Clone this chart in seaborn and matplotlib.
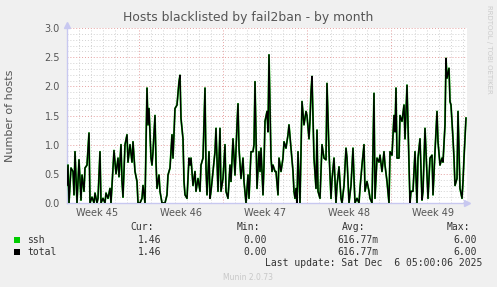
import matplotlib
matplotlib.use("Agg")
import matplotlib.pyplot as plt
from matplotlib.ticker import MultipleLocator, FixedLocator, NullFormatter
import seaborn as sns
import pandas as pd

# ---- data (hours since start of graph, value) ----
hours = [0, 2, 4, 8, 12, 14, 16, 20, 22, 24, 28, 30, 34, 36, 40, 44, 46, 50, 54, 56, 60, 62, 66, 68, 72, 76, 78, 82, 86, 88, 92, 94, 98, 102, 104, 108,
         110, 112, 116, 120, 122, 126, 130, 132, 136, 140, 142, 146, 150, 152, 156, 160, 162, 164, 168, 170, 172, 176, 178, 180, 184, 186, 190, 192, 196, 200, 202, 206, 210, 212, 216, 220, 224,
         226, 228, 232, 234, 236, 240, 244, 246, 248, 252, 256, 258, 262, 266, 268, 272, 276, 278, 280, 284, 286, 288, 292, 296, 298, 302, 306, 308, 312, 316, 318, 322, 326, 328, 332, 336, 340,
         342, 344, 348, 352, 354, 358, 362, 364, 368, 372, 374, 376, 380, 384, 386, 388, 392, 394, 396, 400, 402, 404, 408, 410, 412, 416, 418, 422, 424, 428, 432, 434, 438, 442, 444, 448, 452, 454, 456,
         458, 460, 462, 466, 470, 474, 478, 480, 484, 486, 488, 490, 494, 498, 500, 502, 506, 510, 514, 518, 520, 524, 528, 530, 534, 538, 540, 544, 548, 550, 554, 558, 560, 564, 568, 572,
         574, 576, 580, 584, 586, 590, 594, 596, 600, 604, 606, 610, 614, 616, 620, 624, 626, 630, 634, 636, 640, 644, 646, 650, 654, 656, 658, 660, 664, 666, 670, 674, 676, 680, 684, 686, 688,
         690, 692, 696, 700, 702, 706, 710, 712, 716, 720, 722, 726, 730, 732, 736, 740, 742, 746, 750, 752, 756, 758, 760, 764, 766, 768, 772, 774, 776, 780, 782, 786, 790, 792, 794, 798]
ssh = [0.3, 0.65, 0, 0.6, 0.54, 0.14, 0.88, 0, 0.37, 0.74, 0.05, 0.48, 0.2, 0.6, 0.65, 1.2, 0, 0.1, 0, 0.17, 0, 0.08, 0.88, 0, 0.08, 0, 0.17, 0.08, 0.25, 0, 0.6, 0.9, 0.5, 0.77, 0.45, 1.0,
       0.37, 0.1, 1.0, 1.17, 0.7, 1.0, 0.7, 1.05, 0.54, 0.37, 0, 0, 0.08, 0.3, 0, 1.97, 1.34, 1.62, 0.77, 0.65, 0.88, 1.5, 0.7, 0.25, 0.48, 0.2, 0, 0, 0, 0.14, 0.48, 0.6, 1.17, 0.77, 1.62, 1.68, 2.08,
       2.19, 1.45, 1.1, 0.37, 0.14, 0.08, 0.77, 0.65, 0.77, 0.3, 0.54, 0.2, 0.42, 0.2, 0.65, 0.77, 1.97, 0.6, 0.14, 0.88, 0.08, 0.2, 0.54, 0.88, 1.28, 0.2, 1.28, 0.2, 0.42, 1.0, 0.2, 0.08, 0.65, 0.37, 1.1, 0.48, 1.34,
       1.7, 0.94, 0.42, 0.77, 0.37, 0, 0.48, 0.08, 0.88, 0.88, 1.0, 2.08, 0.25, 0.88, 0.54, 0.94, 0.14, 0.65, 1.4, 1.57, 1.22, 2.54, 0.77, 0.54, 0.65, 0.54, 0.54, 0.14, 0.77, 0.54, 0.77, 1.05, 0.94, 1.17, 1.34, 0.94, 0.54, 0.2, 0.08,
       0.25, 0, 0.88, 0, 1.74, 1.34, 1.57, 1.5, 1.1, 1.42, 1.9, 2.17, 0.77, 0.25, 1.25, 0.2, 0.08, 1.0, 0.77, 0.74, 2.05, 0.88, 0.08, 0.4, 0.77, 0, 0.3, 0.62, 0.08, 0, 0.3, 0.94, 0.77, 0, 0.3, 0.94,
       0.42, 0, 0.08, 0, 0.25, 0.65, 1.0, 0.2, 0.37, 0.2, 0.08, 0, 1.88, 0.08, 0.77, 0.7, 0.82, 0.54, 0.88, 0.65, 0.37, 0, 0.88, 0.82, 1.5, 1.22, 1.97, 0.77, 0.77, 1.5, 1.4, 1.68, 1.1, 2.02, 0.7, 0, 0.2,
       0.2, 0.2, 0.88, 0, 0.77, 1.1, 0.05, 0.2, 1.28, 0.48, 0.08, 0.77, 0.82, 0.14, 0.88, 1.57, 1.05, 0.65, 0.77, 0.7, 1.34, 2.48, 2.14, 2.31, 1.74, 1.68, 1.1, 0.77, 0.3, 0.42, 1.57, 0.25, 0.08, 0.37, 0.77, 1.46]
total = list(ssh)

week_labels = ["Week 45", "Week 46", "Week 47", "Week 48", "Week 49"]
first_week_boundary = 144   # hours
graph_span = 800            # hours
series_names = ["ssh", "total"]
series_colors = ["#00CC00", "#000000"]
legend_cur = ["1.46", "1.46"]
legend_min = ["0.00", "0.00"]
legend_avg = ["616.77m", "616.77m"]
legend_max = ["6.00", "6.00"]
title = "Hosts blacklisted by fail2ban - by month"
ylabel = "Number of hosts"
last_update = "Last update: Sat Dec  6 05:00:06 2025"
footer = "Munin 2.0.73"
side_text = "RRDTOOL / TOBI OETIKER"

# ---- figure ----
sns.set_style("white")
plt.rcParams["font.family"] = ["DejaVu Sans"]
W, H = 497, 287
fig = plt.figure(figsize=(W / 100, H / 100), dpi=100, facecolor="#F0F0F0")
ax = fig.add_axes([67 / W, 84 / H, 400 / W, 175 / H])
ax.set_facecolor("white")

df = pd.DataFrame({"hours": hours, "ssh": ssh, "total": total})
sns.lineplot(data=df, x="hours", y="ssh", ax=ax, color=series_colors[0], linewidth=1.3, zorder=3)
sns.lineplot(data=df, x="hours", y="total", ax=ax, color=series_colors[1], linewidth=1.0, zorder=4)

ax.set_xlim(0, graph_span)
ax.set_ylim(0, 3.0)

# grid
ax.yaxis.set_major_locator(MultipleLocator(0.5))
ax.yaxis.set_minor_locator(MultipleLocator(0.1))
ax.xaxis.set_minor_locator(MultipleLocator(24))
majors = list(range(first_week_boundary, graph_span, 168))
ax.xaxis.set_major_locator(FixedLocator(majors))
ax.xaxis.set_major_formatter(NullFormatter())
ax.grid(which="minor", color="#D2D2D2", linestyle=(0, (1, 2)), linewidth=0.7, zorder=1)
ax.grid(which="major", color="#E6A0A0", linestyle=(0, (1, 2)), linewidth=0.7, zorder=2)
ax.set_axisbelow(True)

ax.yaxis.set_major_formatter(matplotlib.ticker.FormatStrFormatter("%.1f"))
ax.tick_params(axis="y", which="major", labelsize=7, labelcolor="#555555", length=2, color="#CCCCCC", pad=3)
ax.tick_params(axis="x", which="major", length=2, color="#CCCCCC")
ax.tick_params(which="minor", length=0)

# week labels centered in the weeks
for i, lab in enumerate(week_labels):
    pos = first_week_boundary - 84 + 168 * i
    ax.text(pos, -10 / 175, lab, transform=ax.get_xaxis_transform(), ha="center", va="center",
            fontsize=7, color="#555555")

for s in ["top", "right"]:
    ax.spines[s].set_visible(False)
for s in ["left", "bottom"]:
    ax.spines[s].set_color("#C8C8F0")
    ax.spines[s].set_linewidth(1.0)
ax.set_xlabel("")
ax.set_ylabel("")

# axis arrows
ax.plot([1.0], [0], marker=">", markersize=5, color="#C8C8F0", transform=ax.transAxes, clip_on=False)
ax.plot([0], [1.02], marker="^", markersize=5, color="#C8C8F0", transform=ax.transAxes, clip_on=False)

def fx(x):
    return x / W

def fy(y):
    return 1 - y / H

fig.text(fx(248), fy(18), title, ha="center", va="center", fontsize=8.9, color="#555555")
fig.text(fx(10), fy(116), ylabel, ha="center", va="center", rotation=90, fontsize=8, color="#555555")
fig.text(fx(489), fy(5), side_text, ha="center", va="top", rotation=270, fontsize=5, color="#CCCCCC")

mono = "DejaVu Sans Mono"
fs = 7
tc = "#333333"
for x, s in [(154, "Cur:"), (260, "Min:"), (365, "Avg:"), (470, "Max:")]:
    fig.text(fx(x), fy(227), s, ha="right", va="center", family=mono, fontsize=fs, color=tc)
rows_y = [240, 252]
for i, name in enumerate(series_names):
    y = rows_y[i]
    fig.patches.append(matplotlib.patches.Rectangle((fx(14), fy(y + 3)), 6 / W, 6 / H, transform=fig.transFigure,
                                                    facecolor=series_colors[i], edgecolor="none"))
    fig.text(fx(27), fy(y), name, ha="left", va="center", family=mono, fontsize=fs, color=tc)
    fig.text(fx(161), fy(y), legend_cur[i], ha="right", va="center", family=mono, fontsize=fs, color=tc)
    fig.text(fx(267), fy(y), legend_min[i], ha="right", va="center", family=mono, fontsize=fs, color=tc)
    fig.text(fx(378), fy(y), legend_avg[i], ha="right", va="center", family=mono, fontsize=fs, color=tc)
    fig.text(fx(477), fy(y), legend_max[i], ha="right", va="center", family=mono, fontsize=fs, color=tc)
fig.text(fx(482), fy(263), last_update, ha="right", va="center", family=mono, fontsize=fs, color=tc)
fig.text(fx(248), fy(277), footer, ha="center", va="center", fontsize=5.5, color="#C8C8C8")

fig.savefig("out.png", dpi=100, facecolor=fig.get_facecolor())
